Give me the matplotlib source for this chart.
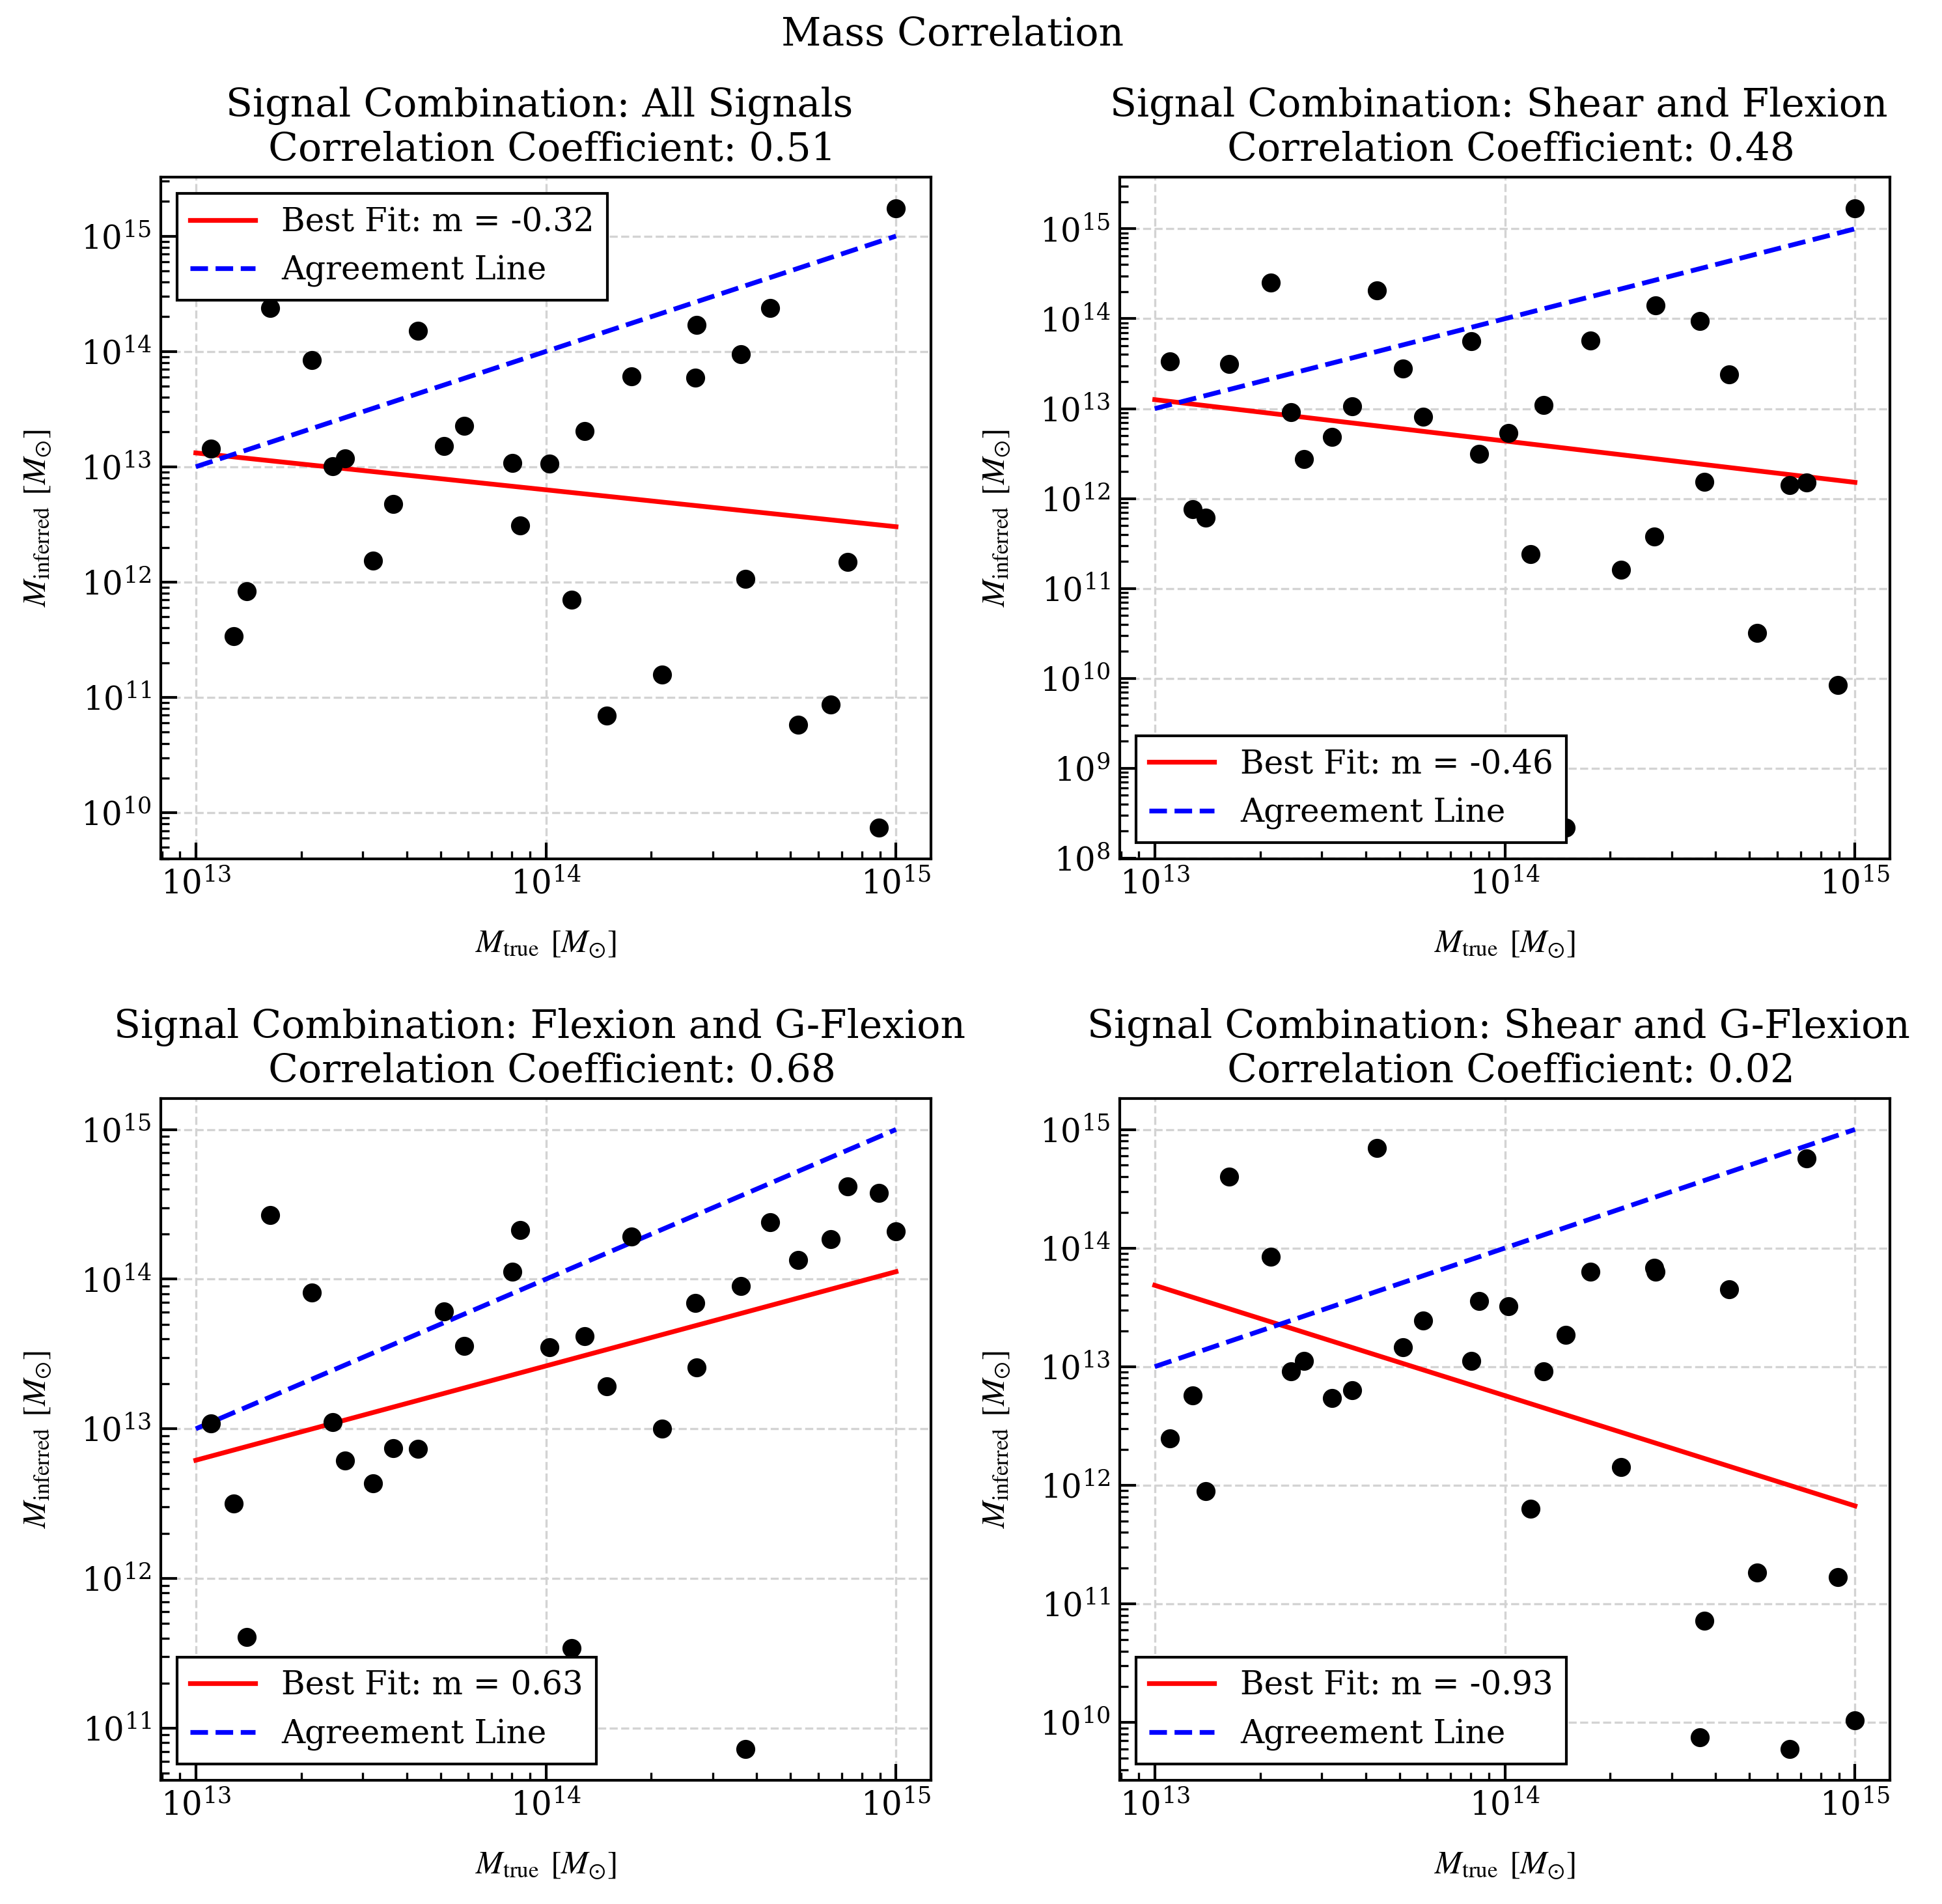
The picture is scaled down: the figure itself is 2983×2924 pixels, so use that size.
import matplotlib.pyplot as plt
import numpy as np

plt.rcParams['font.family'] = 'serif'
plt.rcParams['font.serif'] = ['DejaVu Serif']
plt.rcParams['mathtext.fontset'] = 'stix'
plt.rcParams['font.size'] = 12

# log10 of true mass (same for every panel)
log_true = [13.043, 13.108, 13.145, 13.212, 13.331, 13.390, 13.427, 13.506, 13.564, 13.635,
            13.709, 13.766, 13.905, 13.927, 14.010, 14.073, 14.111, 14.174, 14.245, 14.332,
            14.426, 14.430, 14.556, 14.570, 14.641, 14.720, 14.813, 14.862, 14.951, 15.000]

# log10 of inferred mass, one list per signal combination
log_all = [13.155, 11.530, 11.922, 14.374, 13.924, 13.002, 13.074, 12.183, 12.678, 14.181,
           13.182, 13.357, 13.033, 12.493, 13.029, 11.845, 13.308, 10.842, 13.785, 11.197,
           13.771, 14.230, 13.978, 12.025, 14.374, 10.765, 10.936, 12.174, 9.869, 15.243]
log_shear_flex = [13.522, 11.882, 11.790, 13.493, 14.405, 12.962, 12.442, 12.685, 13.025, 14.313,
                  13.447, 12.910, 13.747, 12.500, 12.731, 11.380, 13.043, 8.337, 13.759, 11.207,
                  11.576, 14.151, 13.972, 12.188, 13.378, 10.502, 12.148, 12.177, 9.925, 15.231]
log_flex_gflex = [13.034, 12.500, 11.610, 14.428, 13.910, 13.045, 12.790, 12.634, 12.869, 12.866,
                  13.783, 13.555, 14.048, 14.328, 13.545, 11.534, 13.617, 13.286, 14.286, 13.000,
                  13.841, 13.410, 13.952, 10.859, 14.379, 14.128, 14.269, 14.621, 14.576, 14.321]
log_shear_gflex = [12.393, 12.759, 11.950, 14.600, 13.925, 12.959, 13.046, 12.737, 12.802, 14.843,
                   13.164, 13.390, 13.046, 13.555, 13.507, 11.802, 12.959, 13.268, 13.803, 12.154,
                   13.834, 13.803, 9.874, 10.857, 13.651, 11.262, 9.774, 14.756, 11.227, 10.017]

combos = ['All Signals', 'Shear and Flexion', 'Flexion and G-Flexion', 'Shear and G-Flexion']
corr_coef = [0.51, 0.48, 0.68, 0.02]
fit_slope = [-0.32, -0.46, 0.63, -0.93]
fit_intercept = [17.28, 19.08, 4.60, 25.776]
legend_loc = ['upper left', 'lower left', 'lower left', 'lower left']
inferred = [log_all, log_shear_flex, log_flex_gflex, log_shear_gflex]

fig, axes = plt.subplots(2, 2, figsize=(2983 / 300, 2924 / 300), dpi=300)
fig.subplots_adjust(left=0.0828, right=0.9732, top=0.9070, bottom=0.0650, wspace=0.245, hspace=0.3515)

m_true = 10 ** np.array(log_true)
x_line = np.array([1e13, 1e15])

for i, ax in enumerate(axes.flat):
    m_inf = 10 ** np.array(inferred[i])
    ax.scatter(m_true, m_inf, color='black', s=36, zorder=3)
    y_fit = 10 ** (fit_slope[i] * np.log10(x_line) + fit_intercept[i])
    ax.plot(x_line, y_fit, color='red', lw=1.75, label=f'Best Fit: m = {fit_slope[i]:.2f}')
    ax.plot(x_line, x_line, color='blue', ls='--', lw=1.75, label='Agreement Line')
    ax.set_xscale('log')
    ax.set_yscale('log')
    ax.set_xlabel(r'$M_{\rm true}$ $[M_{\odot}]$', fontsize=12, labelpad=10)
    ax.set_ylabel(r'$M_{\rm inferred}$ $[M_{\odot}]$', fontsize=12, labelpad=10)
    ax.set_title(f'Signal Combination: {combos[i]} \n Correlation Coefficient: {corr_coef[i]:.2f}',
                 fontsize=14.4)
    ax.grid(True, which='major', linestyle='--', color='lightgray', linewidth=0.8)
    ax.tick_params(which='both', direction='in')
    ax.tick_params(which='major', length=6, width=1)
    ax.tick_params(which='minor', length=3, width=0.8)
    for sp in ax.spines.values():
        sp.set_linewidth(1.0)
    leg = ax.legend(loc=legend_loc[i], fancybox=False, edgecolor='black', framealpha=1, fontsize=12)
    leg.get_frame().set_linewidth(1.0)

fig.suptitle('Mass Correlation', fontsize=14.4, x=0.4905, y=0.9818, va='center')
fig.savefig('out.png', dpi=300)
